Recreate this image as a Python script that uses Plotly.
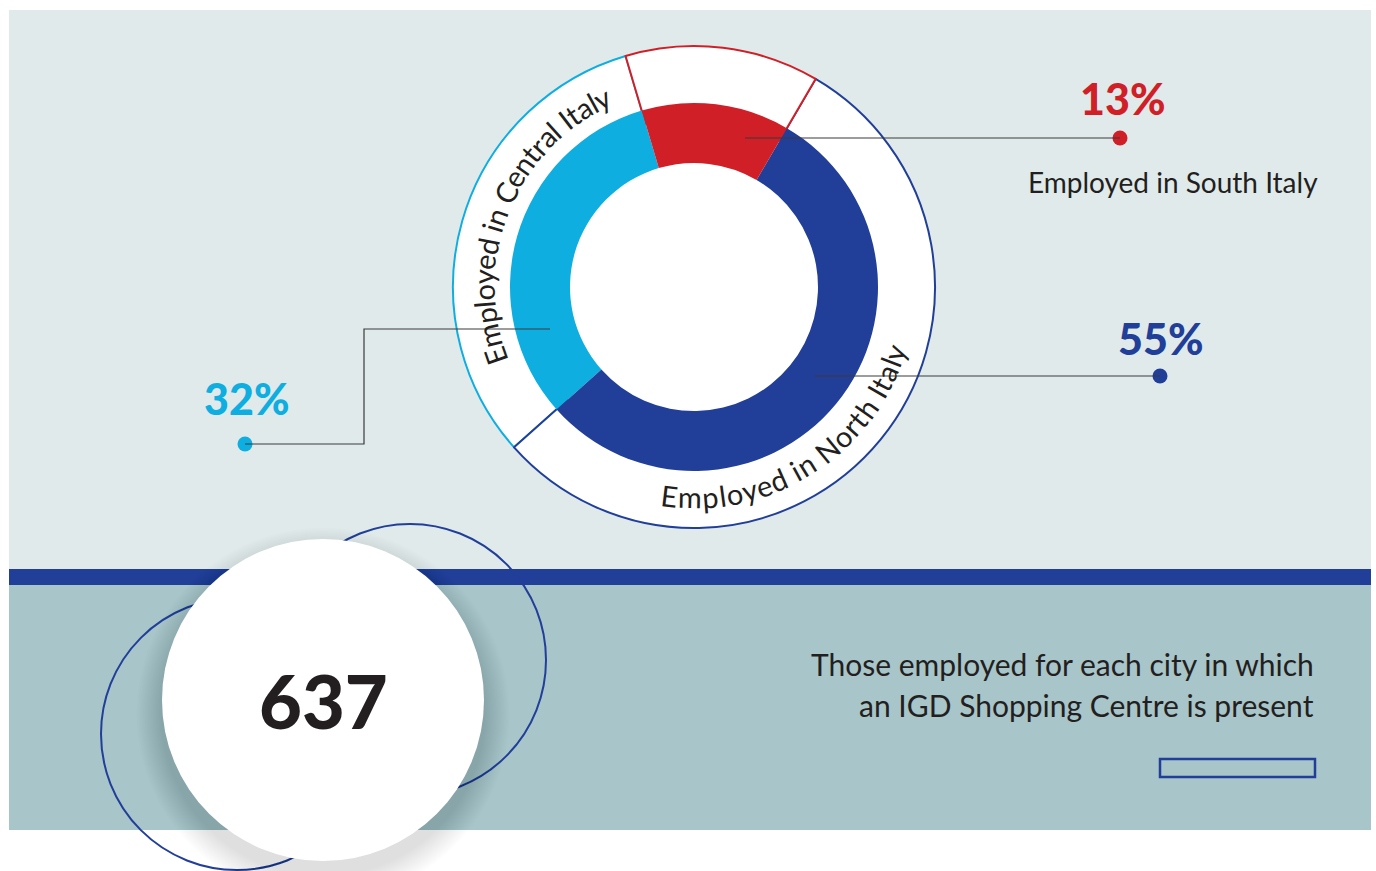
import math
import plotly.graph_objects as go

# ---- data -------------------------------------------------------------
regions = ["Central Italy", "North Italy", "South Italy"]
shares = [32, 55, 13]
share_labels = ["32%", "55%", "13%"]
region_captions = ["Employed in Central Italy", "Employed in North Italy", "Employed in South Italy"]
employed_per_city = 637
per_city_caption = ["Those employed for each city in which", "an IGD Shopping Centre is present"]

# ---- styling ----------------------------------------------------------
W, H = 1376, 871
RED = "#d01f27"
NAVY = "#213f99"
CYAN = "#0faee0"
INK = "#231f20"
PANEL_TOP = "#e0eaeb"
PANEL_LOW = "#a8c5ca"
FONT = "Lato"
seg_colors = [CYAN, NAVY, RED]

CX, CY = 694, 287          # donut centre (px)
R_OUT, R_RING, R_HOLE = 241, 184, 124
START_SOUTH = -16.5        # compass angle where the South slice begins

total = sum(shares)
# first slice (Central) ends where South begins; slices then run counter-clockwise
rotation = START_SOUTH + 360 - 360 * shares[0] / total


def pie_domain(r):
    return dict(x=[(CX - r) / W, (CX + r) / W],
                y=[(H - CY - r) / H, (H - CY + r) / H])


fig = go.Figure()

# outer white band with coloured outlines
fig.add_trace(go.Pie(
    values=shares, labels=regions, sort=False, direction="counterclockwise",
    rotation=rotation, hole=170 / R_OUT, domain=pie_domain(R_OUT),
    marker=dict(colors=["#ffffff"] * 3, line=dict(color=seg_colors, width=2)),
    textinfo="none", hoverinfo="skip", showlegend=False,
))
# main donut
fig.add_trace(go.Pie(
    values=shares, labels=regions, sort=False, direction="counterclockwise",
    rotation=rotation, hole=R_HOLE / R_RING, domain=pie_domain(R_RING),
    marker=dict(colors=seg_colors, line=dict(width=0)),
    textinfo="none", hoverinfo="skip", showlegend=False,
))

# end dots of the leader lines
dots_x = [245, 1160, 1120]
dots_y = [444, 376, 138]
fig.add_trace(go.Scatter(
    x=dots_x, y=dots_y, mode="markers",
    marker=dict(size=15, color=seg_colors, line=dict(width=0)),
    hoverinfo="skip", showlegend=False,
))

shapes = [
    dict(type="rect", x0=9, x1=1371, y0=10, y1=570, fillcolor=PANEL_TOP, line=dict(width=0), layer="below"),
    dict(type="rect", x0=9, x1=1371, y0=585, y1=830, fillcolor=PANEL_LOW, line=dict(width=0), layer="below"),
    dict(type="rect", x0=9, x1=1371, y0=569, y1=585, fillcolor=NAVY, line=dict(width=0), layer="below"),
    dict(type="circle", x0=CX - R_OUT, x1=CX + R_OUT, y0=CY - R_OUT, y1=CY + R_OUT,
         fillcolor="#ffffff", line=dict(width=0), layer="below"),
    # decorative rings around the big number
    dict(type="circle", x0=410 - 136, x1=410 + 136, y0=660 - 136, y1=660 + 136,
         line=dict(color=NAVY, width=2), layer="below"),
    dict(type="circle", x0=237 - 136, x1=237 + 136, y0=734 - 136, y1=734 + 136,
         line=dict(color=NAVY, width=2), layer="below"),
]
# soft shadow under the white disc
BX, BY, BR = 323, 700, 161
for k in range(16, 0, -1):
    rr = BR + k * 1.6
    shapes.append(dict(type="circle", x0=BX - rr, x1=BX + rr, y0=BY + 14 - rr, y1=BY + 14 + rr,
                       fillcolor="rgba(0,0,0,0.006)", line=dict(width=0), layer="below"))
shapes.append(dict(type="circle", x0=BX - BR, x1=BX + BR, y0=BY - BR, y1=BY + BR,
                   fillcolor="#ffffff", line=dict(width=0), layer="below"))

# leader lines from the donut to the value dots
leader = dict(color="#3a3a3a", width=1.2)
shapes += [
    dict(type="path", path="M 245 444 L 364 444 L 364 329 L 550 329", line=leader, layer="above"),
    dict(type="line", x0=815, y0=376, x1=1160, y1=376, line=leader, layer="above"),
    dict(type="line", x0=745, y0=138, x1=1120, y1=138, line=leader, layer="above"),
    # outlined bar under the caption
    dict(type="rect", x0=1160, x1=1315, y0=759, y1=777, line=dict(color=NAVY, width=2.5), layer="above"),
]

annotations = []


def add_text(x, y, text, size, color=INK, weight="normal", xanchor="center", angle=0):
    annotations.append(dict(x=x, y=y, xref="x", yref="y", text=text, showarrow=False,
                            xanchor=xanchor, yanchor="middle", textangle=angle,
                            font=dict(family=FONT, size=size, color=color, weight=weight)))


# value labels
add_text(246, 398, share_labels[0], 43, CYAN, 900)
add_text(1160, 338, share_labels[1], 43, NAVY, 900)
add_text(1122, 98, share_labels[2], 43, RED, 900)
add_text(1173, 182, region_captions[2], 28)

# captions set along the white band
CHAR_W = {"E": .55, "m": .86, "p": .57, "l": .25, "o": .57, "y": .50, "e": .53, "d": .57,
          "i": .24, "n": .57, " ": .26, "C": .66, "t": .35, "r": .37, "a": .50, "I": .27,
          "N": .75, "h": .57, "S": .50}


def arc_text(text, mid_deg, radius, size, clockwise):
    widths = [CHAR_W.get(c, .55) * size for c in text]
    length = sum(widths)
    span = math.degrees(length / radius)
    pos = 0.0
    for c, w in zip(text, widths):
        s = pos + w / 2
        pos += w
        if c == " ":
            continue
        d = math.degrees(s / radius)
        if clockwise:
            ang = mid_deg - span / 2 + d
            rot = ang
        else:
            ang = mid_deg + span / 2 - d
            rot = ang - 180
        t = math.radians(ang)
        add_text(CX + radius * math.sin(t), CY - radius * math.cos(t), c, size, angle=rot)


arc_text(region_captions[0], 292.4, 211, 29, clockwise=True)
arc_text(region_captions[1], 147.5, 210, 29, clockwise=False)

# big number and its caption
add_text(BX, BY, str(employed_per_city), 74, INK, 900)
add_text(1316, 664, per_city_caption[0], 30, xanchor="right")
add_text(1316, 705, per_city_caption[1], 30, xanchor="right")

fig.update_layout(
    width=W, height=H, margin=dict(l=0, r=0, t=0, b=0),
    paper_bgcolor="#ffffff", plot_bgcolor="#ffffff",
    xaxis=dict(range=[0, W], visible=False, fixedrange=True, domain=[0, 1]),
    yaxis=dict(range=[H, 0], visible=False, fixedrange=True, domain=[0, 1]),
    shapes=shapes, annotations=annotations, showlegend=False,
)

fig.write_html("out.html", config={"displayModeBar": False})
